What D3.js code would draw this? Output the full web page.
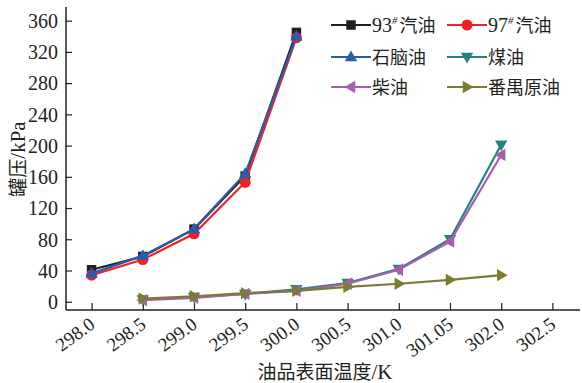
<!DOCTYPE html>
<html>
<head>
<meta charset="utf-8">
<script src="https://cdn.jsdelivr.net/npm/d3@7"></script>
<style>
  html, body { margin: 0; padding: 0; background: #fff; }
  svg text { fill: #231f20; }
  .num { font-family: "Liberation Serif", "Times New Roman", Tinos, serif; }
  .cjk { font-family: "Noto Sans CJK SC", "Noto Sans CJK JP", sans-serif; }
</style>
</head>
<body>
<svg id="chart" width="582" height="383"></svg>
<script>
// Temperature categories (K) along the x axis
const temps = ["298.0", "298.5", "299.0", "299.5", "300.0", "300.5", "301.0", "301.05", "302.0", "302.5"];
const yTicks = [0, 40, 80, 120, 160, 200, 240, 280, 320, 360];

// Tank pressure (kPa) per oil product
const gas93   = [41, 58, 93, 161, 345];
const gas97   = [34, 54, 87, 153, 338];
const naphtha = [36, 59, 93, 164, 340];
const kerosene = [null, 3, 6, 10, 16, 24, 42, 80, 201];
const diesel   = [null, 2, 5, 10, 14, 23, 41, 77, 188];
const panyu    = [null, 4, 7, 11, 14, 19, 23, 28, 34];

const seriesNames = ["93# 汽油", "97# 汽油", "石脑油", "煤油", "柴油", "番禺原油"];
const seriesColors = ["#231f20", "#ec2227", "#2a5caa", "#27817e", "#a65fae", "#7b7b34"];
const seriesShapes = [d3.symbolSquare, d3.symbolCircle, "up", "down", "left", "right"];
const seriesValues = [gas93, gas97, naphtha, kerosene, diesel, panyu];

const svg = d3.select("#chart");
const x = d3.scalePoint().domain(temps).range([66, 578]).padding(0.5);
const y = d3.scaleLinear().domain([-10.6, 377.5]).range([310, 7]);

// Triangle pointing in a given direction, centred at the origin
function triPath(dir, r) {
  const pts = {
    up:    [[0, -r], [r * 0.95, r * 0.65], [-r * 0.95, r * 0.65]],
    down:  [[0, r], [r * 0.95, -r * 0.65], [-r * 0.95, -r * 0.65]],
    left:  [[-r, 0], [r * 0.65, -r * 0.95], [r * 0.65, r * 0.95]],
    right: [[r, 0], [-r * 0.65, -r * 0.95], [-r * 0.65, r * 0.95]]
  }[dir];
  return "M" + pts.map(p => p.join(",")).join("L") + "Z";
}
function markerPath(shape) {
  if (typeof shape === "string") return triPath(shape, 6.5);
  if (shape === d3.symbolSquare) return d3.symbol(shape, 90)();
  return d3.symbol(shape, 95)();
}

// Axes with inward ticks
const yAxis = d3.axisLeft(y).tickValues(yTicks).tickSize(-6).tickPadding(8).tickSizeOuter(0);
const xAxis = d3.axisBottom(x).tickSize(-7).tickSizeOuter(0);

const gy = svg.append("g").attr("transform", "translate(66,0)").call(yAxis)
  .attr("font-family", null).attr("font-size", null);
gy.select(".domain").attr("d", "M0,7V310").attr("stroke", "#231f20").attr("stroke-width", 1.5);
gy.selectAll(".tick line").attr("stroke", "#231f20").attr("stroke-width", 1.2);
gy.selectAll(".tick text").attr("class", "num").attr("font-size", 20).attr("fill", "#231f20").attr("dy", "0.34em");

const gx = svg.append("g").attr("transform", "translate(0,310)").call(xAxis)
  .attr("font-family", null).attr("font-size", null);
gx.select(".domain").attr("d", "M66,0H580").attr("stroke", "#231f20").attr("stroke-width", 1.5);
gx.selectAll(".tick line").attr("stroke", "#231f20").attr("stroke-width", 1.2);
gx.selectAll(".tick text")
  .attr("class", "num").attr("font-size", 19).attr("fill", "#231f20")
  .attr("text-anchor", "end")
  .attr("dy", 0).attr("y", 0).attr("x", 0)
  .attr("transform", "translate(4,17) rotate(-36)");

// Series lines and markers
const line = d3.line()
  .defined(d => d.v != null)
  .x(d => x(d.t))
  .y(d => y(d.v));

seriesValues.forEach((vals, i) => {
  const pts = vals.map((v, j) => ({ t: temps[j], v }));
  svg.append("path").datum(pts)
    .attr("d", line).attr("fill", "none")
    .attr("stroke", seriesColors[i]).attr("stroke-width", 2.2);
  svg.append("g").selectAll("path")
    .data(pts.filter(d => d.v != null)).join("path")
    .attr("transform", d => `translate(${x(d.t)},${y(d.v)})`)
    .attr("d", markerPath(seriesShapes[i]))
    .attr("fill", seriesColors[i]);
});

// Legend: three rows, two columns
const legendCols = [331, 447];
const legendRows = [25, 57, 87];
seriesNames.forEach((name, i) => {
  const lx = legendCols[i % 2], ly = legendRows[Math.floor(i / 2)];
  const g = svg.append("g").attr("transform", `translate(${lx},${ly})`);
  g.append("line").attr("x1", 0).attr("x2", 40).attr("y1", 0).attr("y2", 0)
    .attr("stroke", seriesColors[i]).attr("stroke-width", 2.2);
  g.append("path").attr("transform", "translate(20,0)")
    .attr("d", markerPath(seriesShapes[i])).attr("fill", seriesColors[i]);
  const t = g.append("text").attr("x", 41).attr("y", 7).attr("font-size", 19);
  const m = name.match(/^(\d+)#\s*(.*)$/);
  if (m) {
    t.append("tspan").attr("class", "num").attr("font-size", 20).text(m[1]);
    t.append("tspan").attr("class", "num").attr("font-size", 11).attr("dy", -8).attr("font-style", "italic").text("#");
    t.append("tspan").attr("class", "cjk").attr("dy", 8).attr("dx", 2).attr("font-size", 18).text(m[2]);
  } else {
    t.append("tspan").attr("class", "cjk").attr("font-size", 18).text(name);
  }
});

// Axis titles
const xt = svg.append("text").attr("x", 325).attr("y", 379).attr("text-anchor", "middle");
xt.append("tspan").attr("class", "cjk").attr("font-size", 19).text("油品表面温度");
xt.append("tspan").attr("class", "num").attr("font-size", 21).text("/K");

const yt = svg.append("text").attr("transform", "translate(25,159) rotate(-90)").attr("text-anchor", "middle");
yt.append("tspan").attr("class", "cjk").attr("font-size", 19).text("罐压");
yt.append("tspan").attr("class", "num").attr("font-size", 21).text("/kPa");
</script>
</body>
</html>
